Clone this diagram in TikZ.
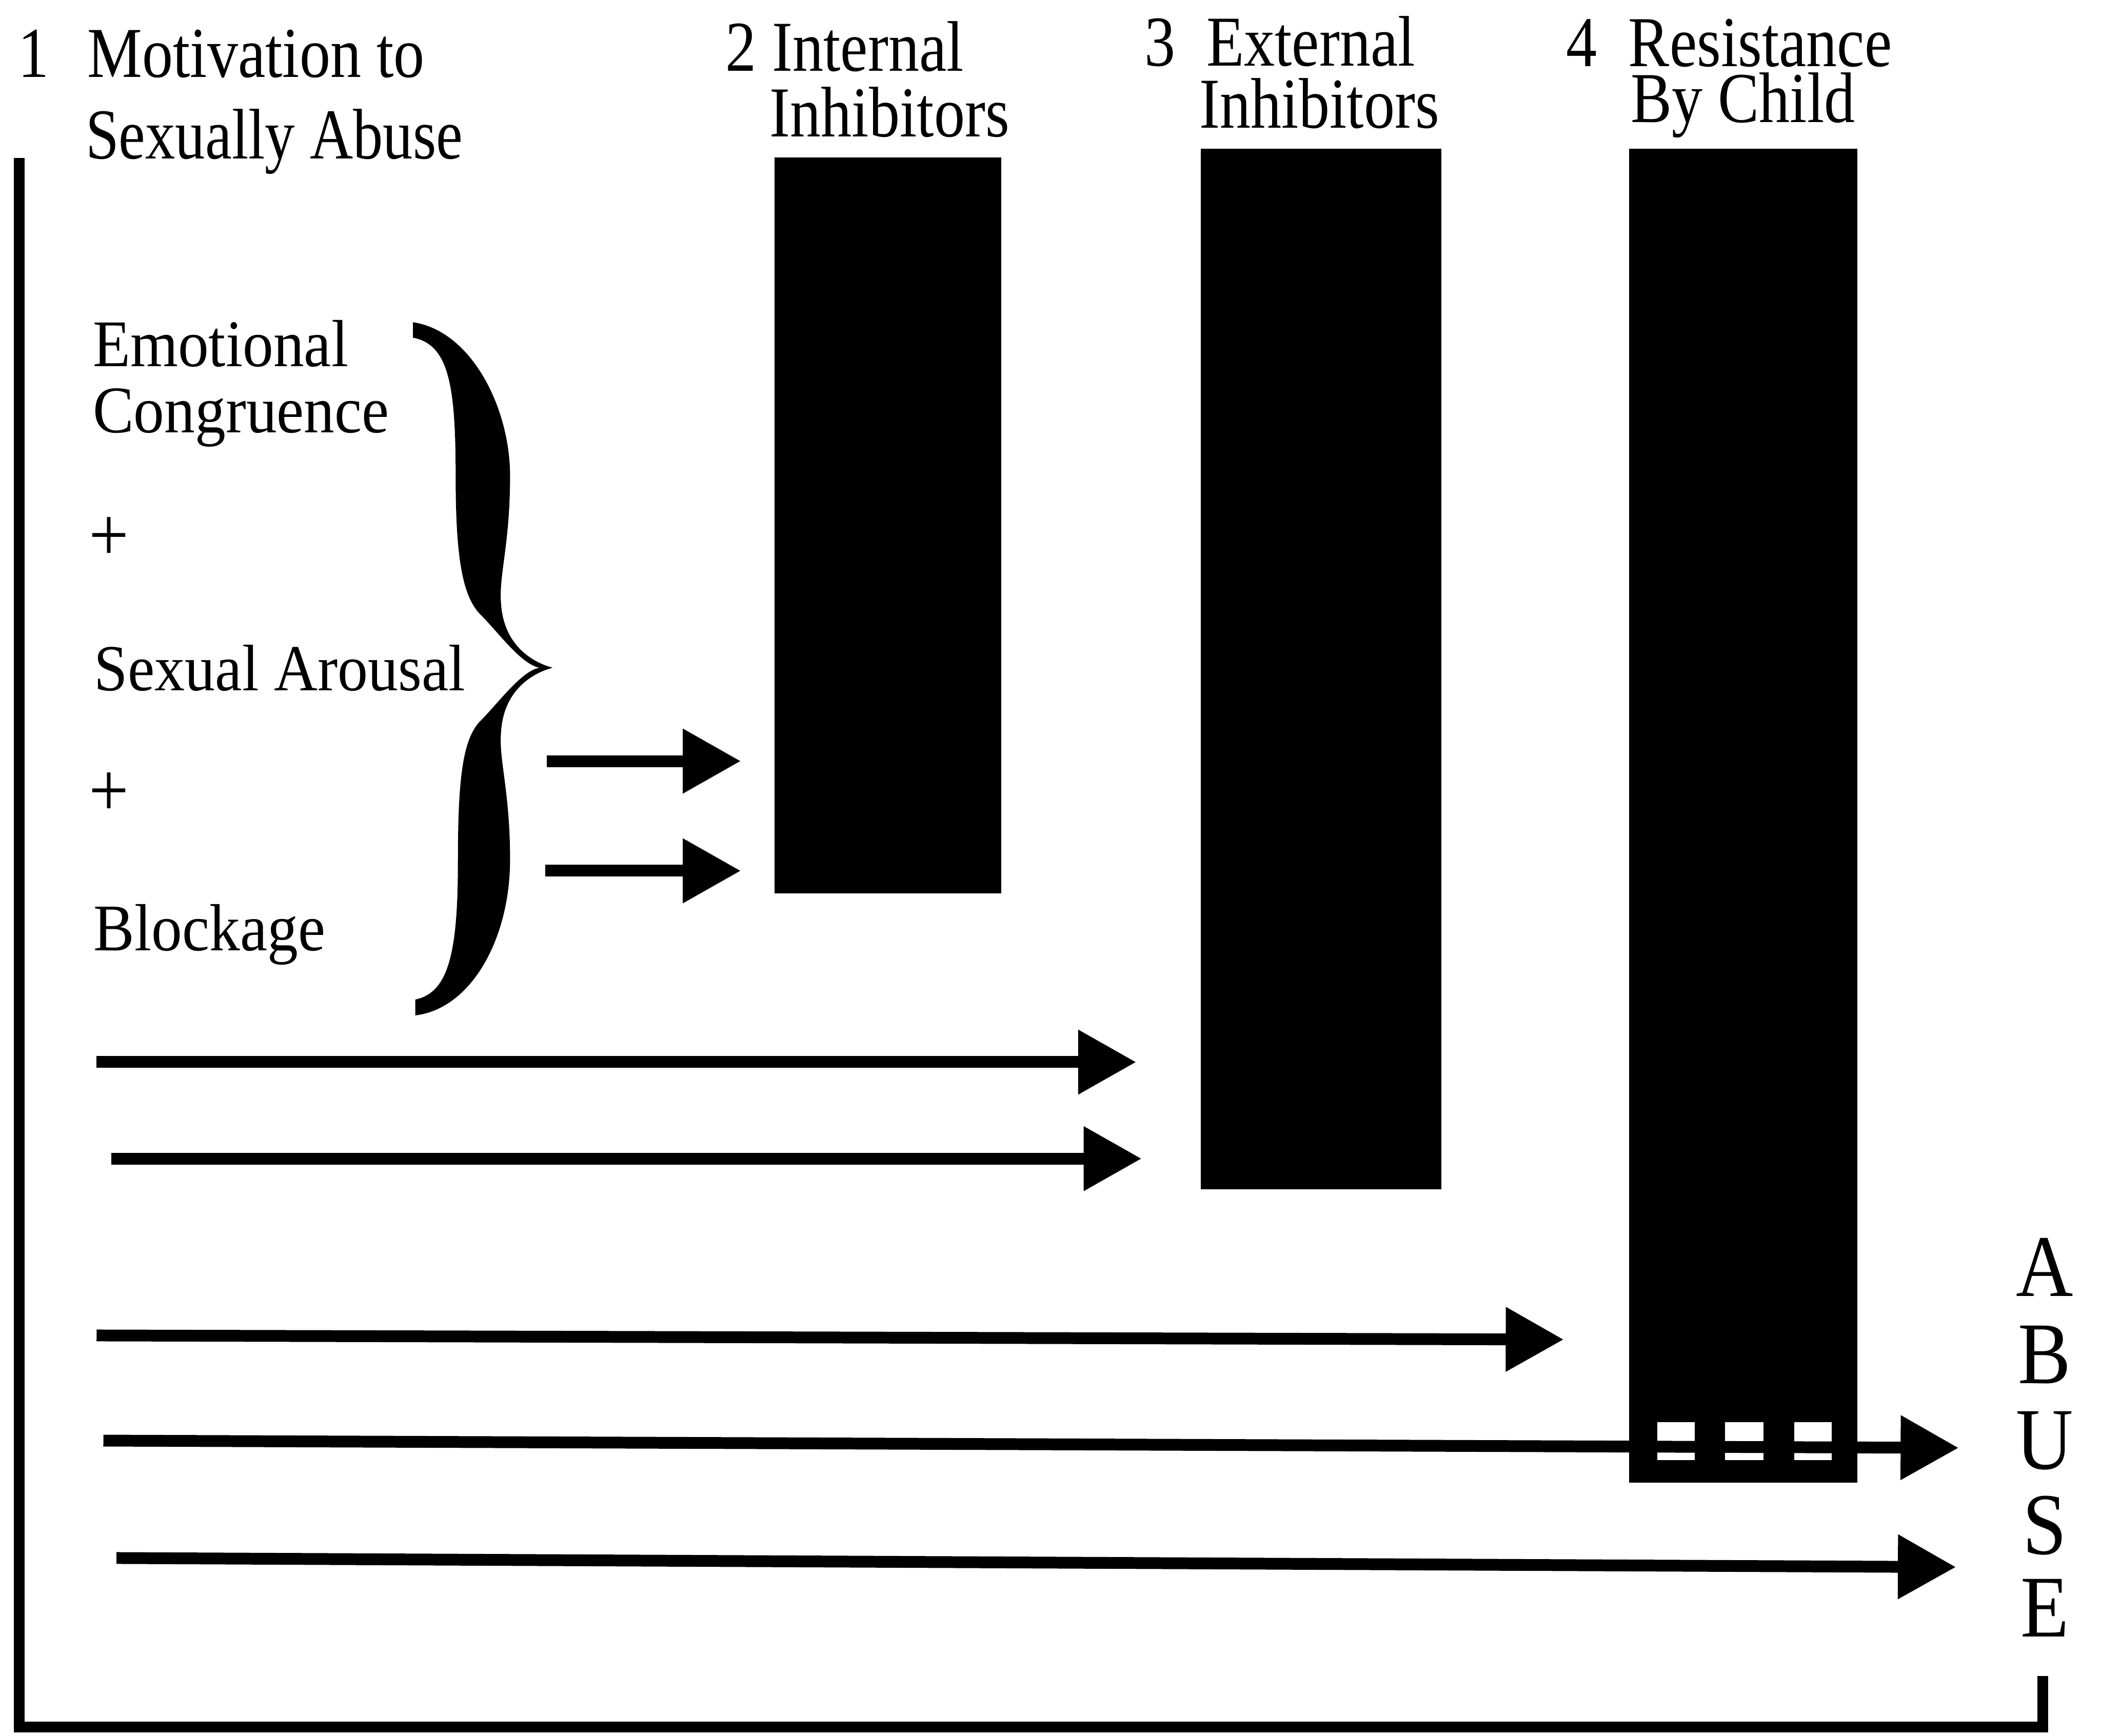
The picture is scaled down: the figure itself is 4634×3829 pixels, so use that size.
\documentclass[tikz,border=0pt]{standalone}
\usepackage{fontspec}
\setmainfont{Liberation Serif}
\newfontfamily\hfont[FakeStretch=0.86]{Liberation Serif}
\newfontfamily\hfontb[FakeStretch=0.835]{Liberation Serif}
\newfontfamily\lfont[FakeStretch=0.92]{Liberation Serif}
\newfontfamily\afont[FakeStretch=0.9]{Liberation Serif}
\usetikzlibrary{arrows.meta}
\begin{document}
\begin{tikzpicture}[x=0.1pt,y=-0.1pt,
  hdr/.style={inner sep=0pt, anchor=base west, font=\hfont\fontsize{15.8pt}{18pt}\selectfont},
  lft/.style={inner sep=0pt, anchor=base west, font=\lfont\fontsize{14.7pt}{17pt}\selectfont},
  plus/.style={inner sep=0pt, anchor=base west, font=\lfont\fontsize{17pt}{19pt}\selectfont},
  abu/.style={inner sep=0pt, anchor=base, font=\afont\fontsize{19.4pt}{22pt}\selectfont},
  barfill/.style={fill=black, draw=none},
  win/.style={fill=white, draw=none},
  arr/.style={line width=2.6pt, -{Triangle[length=12.8pt,width=13.6pt]}},
  frame/.style={line width=2.4pt, line join=miter}]
\useasboundingbox (0,0) rectangle (4634,3829);

% frame
\coordinate (ftop) at (42,348);
\coordinate (fcorner) at (42,3810);
\coordinate (fright) at (4506,3810);
\coordinate (ftick) at (4506,3697);
\draw[frame] (ftop) -- (fcorner) -- (fright) -- (ftick);

% headings
\node[hdr] (n1) at (38,170) {1};
\node[hdr] (h1a) at (191,170) {Motivation to};
\node[hdr, font=\hfontb\fontsize{15.8pt}{18pt}\selectfont] (h1b) at (187,350) {Sexually Abuse};
\node[hdr] (n2) at (1598,157) {2};
\node[hdr] (h2a) at (1701,157) {Internal};
\node[hdr] (h2b) at (1696,302) {Inhibitors};
\node[hdr] (n3) at (2523,145) {3};
\node[hdr] (h3a) at (2659,145) {External};
\node[hdr] (h3b) at (2644,282) {Inhibitors};
\node[hdr] (n4) at (3452,147) {4};
\node[hdr] (h4a) at (3590,147) {Resistance};
\node[hdr] (h4b) at (3595,270) {By Child};

% bars
\path[barfill] (1708,347) rectangle (2208,1971);
\path[barfill] (2648,328) rectangle (3179,2624);
\path[barfill] (3593,328) rectangle (4097,3271);
% windows in bar 4
\path[win] (3655,3137) rectangle (3738,3221);
\path[win] (3805,3137) rectangle (3889,3221);
\path[win] (3957,3137) rectangle (4040,3221);

% left column
\node[lft] (t1) at (203,808) {Emotional};
\node[lft] (t2) at (203,954) {Congruence};
\node[plus] (p1) at (194,1237) {+};
\node[lft, font=\lfont\fontsize{14.5pt}{17pt}\selectfont] (t3) at (206,1523) {Sexual Arousal};
\node[plus] (p2) at (194,1801) {+};
\node[lft] (t4) at (205,2097) {Blockage};

% brace
\fill (911,711) .. controls (1040,730) and (1125,900) .. (1125,1050)
  .. controls (1125,1200) and (1100,1270) .. (1105,1330)
  .. controls (1110,1420) and (1170,1460) .. (1219,1473)
  .. controls (1170,1486) and (1110,1526) .. (1105,1616)
  .. controls (1100,1676) and (1125,1746) .. (1125,1896)
  .. controls (1125,2070) and (1040,2225) .. (916,2240)
  -- (916,2205)
  .. controls (990,2190) and (1010,2100) .. (1010,1900)
  .. controls (1010,1720) and (1020,1630) .. (1060,1590)
  .. controls (1100,1550) and (1150,1480) .. (1190,1473)
  .. controls (1150,1466) and (1100,1396) .. (1060,1356)
  .. controls (1020,1316) and (1005,1230) .. (1005,1050)
  .. controls (1005,850) and (990,760) .. (911,745) -- cycle;

% arrows
\coordinate (a1s) at (1206,1679); \coordinate (a1e) at (1634,1679);
\coordinate (a2s) at (1203,1921); \coordinate (a2e) at (1634,1921);
\coordinate (a3s) at (213,2343);  \coordinate (a3e) at (2506,2343);
\coordinate (a4s) at (245,2556);  \coordinate (a4e) at (2518,2556);
\coordinate (a5s) at (213,2946);  \coordinate (a5e) at (3449,2955);
\coordinate (a6s) at (228,3178);  \coordinate (a6e) at (4320,3194);
\coordinate (a7s) at (257,3437);  \coordinate (a7e) at (4314,3457);
\draw[arr] (a1s) -- (a1e);
\draw[arr] (a2s) -- (a2e);
\draw[arr] (a3s) -- (a3e);
\draw[arr] (a4s) -- (a4e);
\draw[arr] (a5s) -- (a5e);
\draw[arr] (a6s) -- (a6e);
\draw[arr] (a7s) -- (a7e);

% ABUSE
\node[abu] (lA) at (4510,2860) {A};
\node[abu] (lB) at (4510,3052) {B};
\node[abu] (lU) at (4510,3241) {U};
\node[abu] (lS) at (4510,3428) {S};
\node[abu] (lE) at (4510,3611) {E};
\end{tikzpicture}
\end{document}
